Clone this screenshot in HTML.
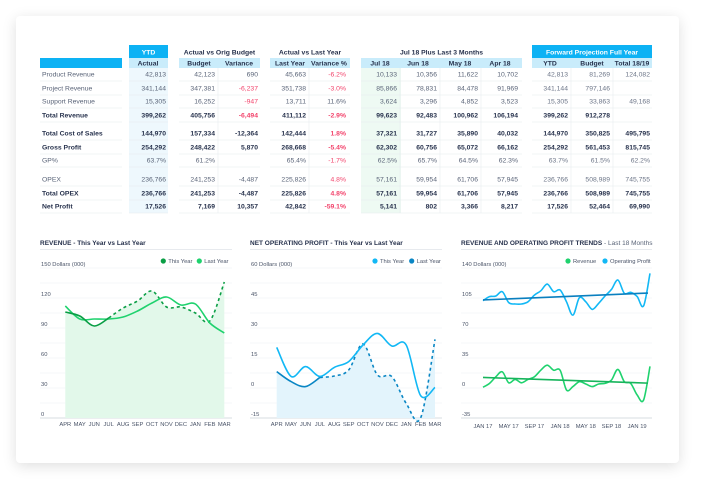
<!DOCTYPE html>
<html><head><meta charset="utf-8"><style>
html,body{margin:0;padding:0;background:#fff;}
body{width:705px;height:482px;overflow:hidden;position:relative;font-family:"Liberation Sans",sans-serif;}
#card{position:absolute;left:16px;top:16px;width:663px;height:447px;background:#fff;border-radius:4px;box-shadow:0 3px 14px rgba(0,0,0,0.13);}
svg{position:absolute;left:0;top:0;}
text{font-family:"Liberation Sans",sans-serif;}
</style></head><body>
<div id="card"></div>
<svg id="s" width="705" height="482"></svg>
<script>
// ---------- TABLE DATA ----------
const rowLabels=["Product Revenue","Project Revenue","Support Revenue","Total Revenue","Total Cost of Sales","Gross Profit","GP%","OPEX","Total OPEX","Net Profit"];
const rowBold=[0,0,0,1,1,1,0,0,1,1];
const rowY=[74,88,101,115,133,147,160,179,193,206];
const tableValues=[
["42,813","42,123","690","45,663","-6.2%","10,133","10,356","11,622","10,702","42,813","81,269","124,082"],
["341,144","347,381","-6,237","351,738","-3.0%","85,866","78,831","84,478","91,969","341,144","797,146",""],
["15,305","16,252","-947","13,711","11.6%","3,624","3,296","4,852","3,523","15,305","33,863","49,168"],
["399,262","405,756","-6,494","411,112","-2.9%","99,623","92,483","100,962","106,194","399,262","912,278",""],
["144,970","157,334","-12,364","142,444","1.8%","37,321","31,727","35,890","40,032","144,970","350,825","495,795"],
["254,292","248,422","5,870","268,668","-5.4%","62,302","60,756","65,072","66,162","254,292","561,453","815,745"],
["63.7%","61.2%","","65.4%","-1.7%","62.5%","65.7%","64.5%","62.3%","63.7%","61.5%","62.2%"],
["236,766","241,253","-4,487","225,826","4.8%","57,161","59,954","61,706","57,945","236,766","508,989","745,755"],
["236,766","241,253","-4,487","225,826","4.8%","57,161","59,954","61,706","57,945","236,766","508,989","745,755"],
["17,526","7,169","10,357","42,842","-59.1%","5,141","802","3,366","8,217","17,526","52,464","69,990"]];
const redMask=["000010000000","001010000000","001000000000","001010000000","000010000000","000010000000","000010000000","000010000000","000010000000","000010000000"];
const colHeaders=["Actual","Budget","Variance","Last Year","Variance %","Jul 18","Jun 18","May 18","Apr 18","YTD","Budget","Total 18/19"];
const groupHeaders=["YTD","Actual vs Orig Budget","Actual vs Last Year","Jul 18 Plus Last 3 Months","Forward Projection Full Year"];

// ---------- CHART DATA ----------
const months=["APR","MAY","JUN","JUL","AUG","SEP","OCT","NOV","DEC","JAN","FEB","MAR"];
const revThisYear=[106,102,92,100,110,117,127,111,111,105,97,136];
const revLastYear=[112,99,99,99,101,107,115,121,113,114,95,85];
const revTicks=[0,30,60,90,120,150];
const nopThisYear=[20.3,5.8,10.7,5.8,10.3,13.2,21.5,27.3,21,21.5,-3.8,0.3];
const nopLastYear=[8.2,3.2,0.7,5.3,6,9,22,6.5,5.7,-7.7,-15,24.3];
const nopTicks=[-15,0,15,30,45,60];
const trendLabels=["JAN 17","MAY 17","SEP 17","JAN 18","MAY 18","SEP 18","JAN 19"];
const trendOpProfit=[101.9,106.6,107.3,112.4,99.6,98,98,100.6,108.4,113.4,121.2,112.4,114.3,100.6,85,105.2,100.6,91.7,98.7,107.3,115,126,110.5,111.6,106.6,95.8,133.7];
const trendRevenue=[0.9,5.3,13.1,18.9,6.1,10,6.1,10,13.1,20.8,26.6,20.8,20.8,-2.3,1.6,7.4,4.7,1.6,4.7,5.4,9.3,21.7,7.4,5.4,-8.2,-14,25.2];
const trendTicks=[-35,0,35,70,105,140];

const NS="http://www.w3.org/2000/svg";
const S=document.getElementById('s');
function el(tag,attrs,parent,txt){const e=document.createElementNS(NS,tag);for(const k in attrs)e.setAttribute(k,attrs[k]);if(txt!==undefined)e.textContent=txt;(parent||S).appendChild(e);return e;}

// ---------- TABLE ----------
const navy="#27324d", grey="#5a6478", red="#f2436b";
const colRight=[166,215,258,306,346,397,437,478,518,568,610,650];
const colCenter=[148,199,239,290,329,380,418,460,500,550,592,632];
const groups=[[129,168],[179,260],[270,350],[361,522],[532,652]];
const groupCols=[[0],[1,2],[3,4],[5,6,7,8],[9,10,11]];
const tbl=el('g',{});


let bg=el('rect',{x:129,y:67,width:39,height:146,fill:"#eef8fd"},tbl);

bg=el('rect',{x:361,y:67,width:40,height:146,fill:"#eefaf3"},tbl);

let hb=el('rect',{x:40,y:58,width:82,height:10,fill:"#0db2f4"},tbl);

hb=el('rect',{x:129,y:45,width:39,height:13,fill:"#0db2f4"},tbl);

hb=el('rect',{x:532,y:45,width:120,height:13,fill:"#0db2f4"},tbl);

groups.forEach((g,i)=>{
  const r=el('rect',{x:g[0],y:58,width:g[1]-g[0],height:10,fill:"#c9ecfb"},tbl);
  
  
  const white=(i===0||i===4);
  const cx=(g[0]+g[1])/2;
  const t=el('text',{x:cx,y:54.5,'font-size':6.8,'font-weight':'bold','text-anchor':'middle',fill:white?"#fff":navy},tbl,groupHeaders[i]);
  
  
  for(let k=1;k<groupCols[i].length;k++){
    const x=colRight[groupCols[i][k-1]]+3;
    el('line',{x1:x,y1:68,x2:x,y2:213,stroke:"#e8ecf0",'stroke-width':0.6},tbl);
  }
});
colHeaders.forEach((h,i)=>{
  const t=el('text',{x:colCenter[i],y:65.5,'font-size':6.8,'font-weight':'bold','text-anchor':'middle',fill:navy},tbl,h);
  
  
});
rowLabels.forEach((lab,r)=>{
  const y=rowY[r];
  const b=rowBold[r];
  const ly=y+7;
  el('line',{x1:40,y1:ly,x2:122,y2:ly,stroke:"#e6e9ee",'stroke-width':0.6},tbl);
  groups.forEach(g=>el('line',{x1:g[0],y1:ly,x2:g[1],y2:ly,stroke:"#e6e9ee",'stroke-width':0.6},tbl));
  const t=el('text',{x:42,y:y+2.5,'font-size':6.8,'font-weight':b?'bold':'normal',fill:b?navy:grey},tbl,lab);
  
  
  tableValues[r].forEach((v,c)=>{
    const isRed=redMask[r][c]==='1'&&!(c===4&&v==="11.6%");
    const dim=(c>=9 && !b);
    const tv=el('text',{x:colRight[c],y:y+2.5,'font-size':6.8,'font-weight':b?'bold':'normal','text-anchor':'end',fill:isRed?red:(b?navy:(dim?"#6d7688":grey))},tbl,v);
    
    
  });
});

// ---------- CHART HELPERS ----------
function smoothPath(pts){
  let d="M"+pts[0][0].toFixed(1)+","+pts[0][1].toFixed(1);
  for(let i=0;i<pts.length-1;i++){
    const p0=pts[i-1]||pts[i],p1=pts[i],p2=pts[i+1],p3=pts[i+2]||p2;
    const c1=[p1[0]+(p2[0]-p0[0])/6,p1[1]+(p2[1]-p0[1])/6];
    const c2=[p2[0]-(p3[0]-p1[0])/6,p2[1]-(p3[1]-p1[1])/6];
    d+=" C"+c1[0].toFixed(1)+","+c1[1].toFixed(1)+" "+c2[0].toFixed(1)+","+c2[1].toFixed(1)+" "+p2[0].toFixed(1)+","+p2[1].toFixed(1);
  }
  return d;
}
function frame(g,x0,x1,title,sub,ticks,yFn,unit,legend){
  const t=el('text',{x:x0,y:245,'font-size':6.5,'font-weight':'bold',fill:navy},g,title);
  
  
  if(sub){const ts=el('tspan',{'font-weight':'normal',fill:grey},t,sub);}
  el('line',{x1:x0,y1:249.5,x2:x1,y2:249.5,stroke:"#dfe3e8",'stroke-width':0.8},g);
  const lo=ticks[0],hi=ticks[ticks.length-1],st=(ticks[1]-ticks[0])/2;
  for(let v=lo;v<=hi+0.001;v+=st){
    el('line',{x1:x0,y1:yFn(v),x2:x1,y2:yFn(v),stroke:v===lo?"#d7dce2":"#eef0f3",'stroke-width':v===lo?1:0.6},g);
  }
  ticks.forEach((v,i)=>{
    const lbl=(i===ticks.length-1)?(v+" Dollars (000)"):String(v);
    const tt=el('text',{x:x0+1,y:yFn(v)-2,'font-size':5.8,fill:"#4a5468"},g,lbl);
    
    
  });
  legend.forEach(l=>{
    const c=el('circle',{cx:l[0],cy:261,r:2.6,fill:l[1]},g);
    
    
    const lt=el('text',{x:l[0]+5,y:263,'font-size':5.8,fill:"#4a5468"},g,l[2]);
    
    
  });
}

// ---------- CHART 1 : REVENUE ----------
(function(){
  const g=el('g',{});
  
  
  const xF=i=>65.3+i*(224.3-65.3)/(months.length-1);
  const yF=v=>418-(v-revTicks[0])*150/(revTicks[revTicks.length-1]-revTicks[0]);
  frame(g,40,232,"REVENUE - This Year vs Last Year","",revTicks,yF,"",[[163.3,"#0a9e45","This Year"],[199.3,"#1fd26e","Last Year"]]);
  const pTY=revThisYear.map((v,i)=>[xF(i),yF(v)]);
  const pLY=revLastYear.map((v,i)=>[xF(i),yF(v)]);
  const area=el('path',{d:smoothPath(pTY)+" L"+xF(months.length-1)+","+yF(0)+" L"+xF(0)+","+yF(0)+" Z",fill:"#e2f8ea"},g);
  
  const dash=el('path',{d:smoothPath(pTY.slice(3)),fill:"none",stroke:"#0a9e45",'stroke-width':1.6,'stroke-dasharray':"3,3"},g);
  
  const ly=el('path',{d:smoothPath(pLY),fill:"none",stroke:"#1fd26e",'stroke-width':1.6},g);
  
  const ty=el('path',{d:smoothPath(pTY.slice(0,4)),fill:"none",stroke:"#0a9e45",'stroke-width':1.6},g);
  
  months.forEach((m,i)=>{const t=el('text',{x:xF(i),y:426,'font-size':5.8,'text-anchor':'middle',fill:"#4a5468"},g,m);
    });
})();

// ---------- CHART 2 : NET OPERATING PROFIT ----------
(function(){
  const g=el('g',{});
  
  
  const xF=i=>276.7+i*(435-276.7)/(months.length-1);
  const yF=v=>418-(v-nopTicks[0])*150/(nopTicks[nopTicks.length-1]-nopTicks[0]);
  frame(g,250,442,"NET OPERATING PROFIT - This Year vs Last Year","",nopTicks,yF,"",[[375,"#12b8f5","This Year"],[411.7,"#0a86c4","Last Year"]]);
  const pTY=nopThisYear.map((v,i)=>[xF(i),yF(v)]);
  const pLY=nopLastYear.map((v,i)=>[xF(i),yF(v)]);
  const area=el('path',{d:smoothPath(pLY)+" L"+xF(months.length-1)+","+yF(nopTicks[0])+" L"+xF(0)+","+yF(nopTicks[0])+" Z",fill:"#e3f4fc"},g);
  
  const dash=el('path',{d:smoothPath(pLY.slice(3)),fill:"none",stroke:"#0a86c4",'stroke-width':1.6,'stroke-dasharray':"3,3"},g);
  
  const ty=el('path',{d:smoothPath(pTY),fill:"none",stroke:"#12b8f5",'stroke-width':1.6},g);
  
  const ly=el('path',{d:smoothPath(pLY.slice(0,4)),fill:"none",stroke:"#0a86c4",'stroke-width':1.6},g);
  
  months.forEach((m,i)=>{const t=el('text',{x:xF(i),y:426,'font-size':5.8,'text-anchor':'middle',fill:"#4a5468"},g,m);
    });
})();

// ---------- CHART 3 : TRENDS ----------
(function(){
  const g=el('g',{});
  
  
  const n=trendOpProfit.length;
  const step=(650-483)/(n-1);
  const xF=i=>483+i*step;
  const yF=v=>418-(v-trendTicks[0])*150/(trendTicks[trendTicks.length-1]-trendTicks[0]);
  frame(g,461,652,"REVENUE AND OPERATING PROFIT TRENDS"," - Last 18 Months",trendTicks,yF,"",[[568,"#1fd26e","Revenue"],[605,"#12b8f5","Operating Profit"]]);
  function reg(arr){const m=arr.length;let sx=0,sy=0,sxx=0,sxy=0;arr.forEach((v,i)=>{sx+=i;sy+=v;sxx+=i*i;sxy+=i*v;});
    const b=(m*sxy-sx*sy)/(m*sxx-sx*sx);const a=(sy-b*sx)/m;return [a,a+b*(m-1)];}
  [[trendRevenue,"#1fd26e","#17b45c","revenue"],[trendOpProfit,"#12b8f5","#0a7fbf","operating-profit"]].forEach(s=>{
    const pts=s[0].map((v,i)=>[xF(i),yF(v)]);
    const l=el('path',{d:smoothPath(pts),fill:"none",stroke:s[1],'stroke-width':1.6},g);
    
    const r=reg(s[0]);
    const tl=el('line',{x1:xF(0),y1:yF(r[0]),x2:xF(n-1)-2,y2:yF(r[1]),stroke:s[2],'stroke-width':1.6},g);
    
  });
  trendLabels.forEach((m,i)=>{const t=el('text',{x:xF(i*4),y:428,'font-size':5.8,'text-anchor':'middle',fill:"#4a5468"},g,m);
    });
})();
</script>
</body></html>
